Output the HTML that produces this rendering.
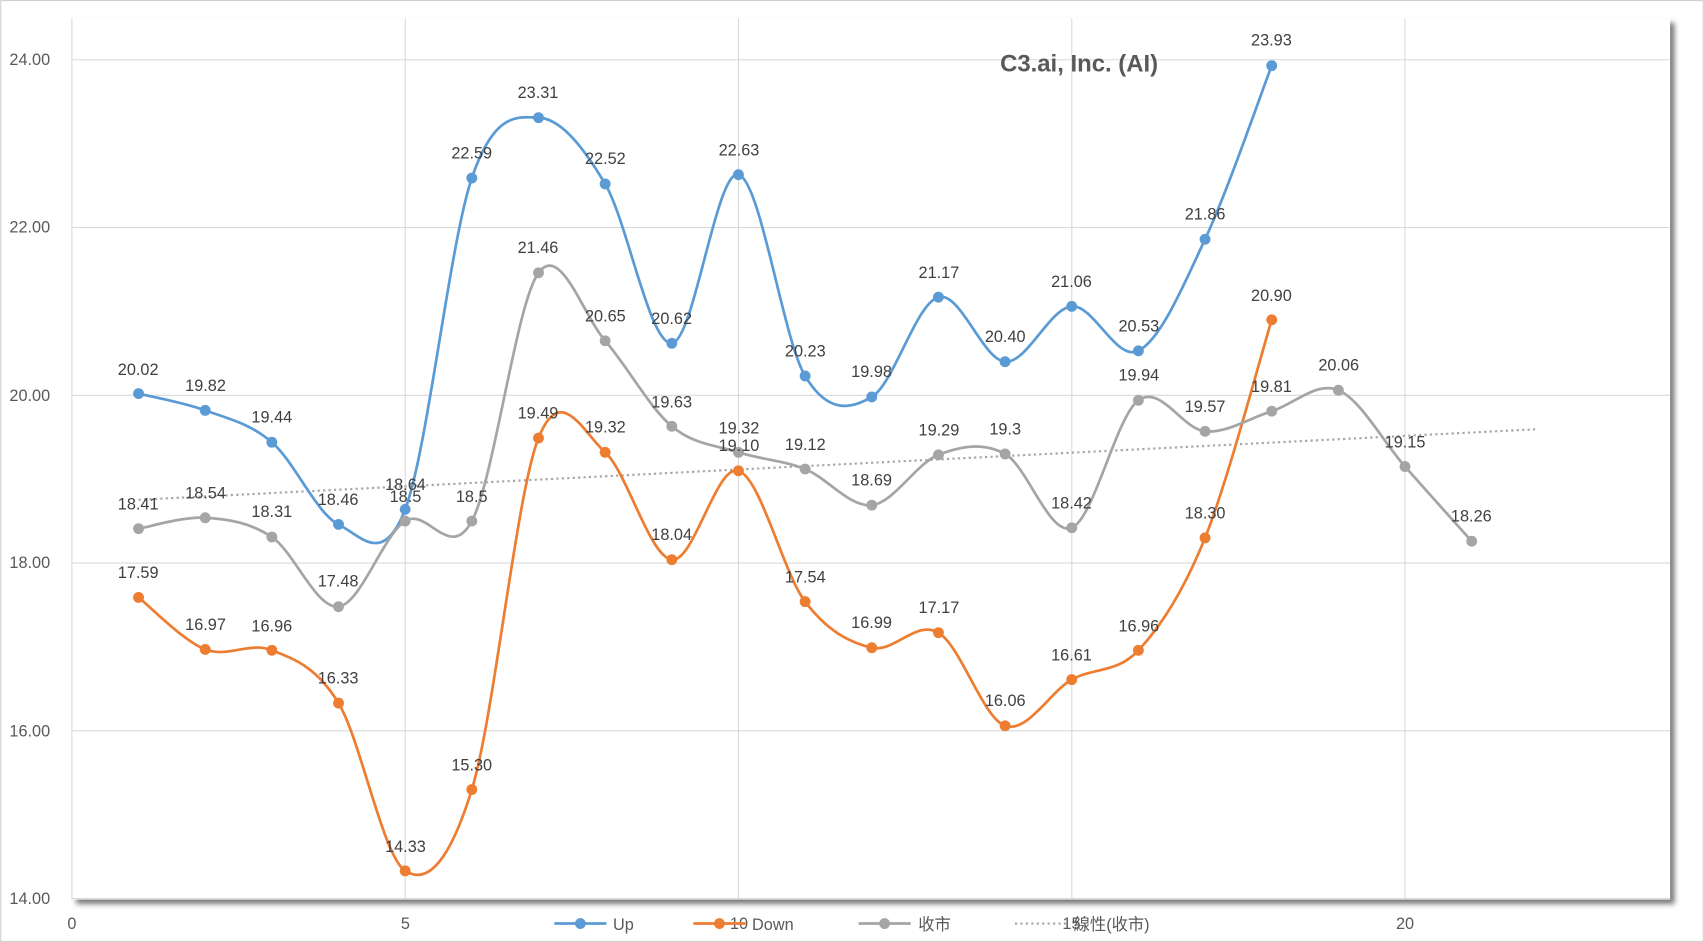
<!DOCTYPE html>
<html><head><meta charset="utf-8"><style>
html,body{margin:0;padding:0;background:#fff;}
svg{display:block;}
text{font-family:"Liberation Sans","Noto Sans CJK TC",sans-serif;}
</style></head><body>
<svg id="s" width="1704" height="942" viewBox="0 0 1568 867" xmlns="http://www.w3.org/2000/svg">
<defs><filter id="sh" x="-5%" y="-5%" width="110%" height="110%"><feGaussianBlur stdDeviation="2.5"/></filter></defs>
<rect x="0.5" y="0.5" width="1567" height="866" fill="#fff" stroke="#d0d0d0"/>
<rect x="70" y="21" width="1471" height="811" fill="#777" filter="url(#sh)"/>
<rect x="66" y="17" width="1471" height="811" fill="#fff"/>
<g stroke="#d9d9d9" stroke-width="1">
<line x1="66" y1="55" x2="1537" y2="55"/><line x1="66" y1="209.4" x2="1537" y2="209.4"/>
<line x1="66" y1="363.8" x2="1537" y2="363.8"/><line x1="66" y1="518.2" x2="1537" y2="518.2"/>
<line x1="66" y1="672.6" x2="1537" y2="672.6"/><line x1="66" y1="827" x2="1537" y2="827"/>
<line x1="66" y1="17" x2="66" y2="828"/><line x1="372.8" y1="17" x2="372.8" y2="828"/>
<line x1="679.5" y1="17" x2="679.5" y2="828"/><line x1="986.3" y1="17" x2="986.3" y2="828"/>
<line x1="1293" y1="17" x2="1293" y2="828"/>
</g>
<g font-size="15" fill="#595959" text-anchor="end">
<text x="46" y="60">24.00</text><text x="46" y="214">22.00</text><text x="46" y="369">20.00</text>
<text x="46" y="523">18.00</text><text x="46" y="678">16.00</text><text x="46" y="832">14.00</text>
</g>
<g font-size="15" fill="#595959" text-anchor="middle">
<text x="66" y="855">0</text><text x="373" y="855">5</text><text x="680" y="855">10</text>
<text x="986" y="855">15</text><text x="1293" y="855">20</text>
</g>
<text x="993" y="66" font-size="22" font-weight="bold" fill="#595959" text-anchor="middle">C3.ai, Inc. (AI)</text>
<line x1="127.4" y1="460" x2="1415" y2="395" stroke="#a5a5a5" stroke-width="2" stroke-dasharray="2,3"/>
<g id="series"></g>
<g font-size="15" fill="#404040" text-anchor="middle">
<text x="127" y="345">20.02</text><text x="189" y="360">19.82</text><text x="250" y="389">19.44</text><text x="311" y="465">18.46</text><text x="373" y="451">18.64</text><text x="434" y="146">22.59</text><text x="495" y="90">23.31</text><text x="557" y="151">22.52</text><text x="618" y="298">20.62</text><text x="680" y="143">22.63</text><text x="741" y="328">20.23</text><text x="802" y="347">19.98</text><text x="864" y="256">21.17</text><text x="925" y="315">20.40</text><text x="986" y="264">21.06</text><text x="1048" y="305">20.53</text><text x="1109" y="202">21.86</text><text x="1170" y="42">23.93</text>
<text x="127" y="532">17.59</text><text x="189" y="580">16.97</text><text x="250" y="581">16.96</text><text x="311" y="629">16.33</text><text x="373" y="784">14.33</text><text x="434" y="709">15.30</text><text x="495" y="385">19.49</text><text x="557" y="398">19.32</text><text x="618" y="497">18.04</text><text x="680" y="415">19.10</text><text x="741" y="536">17.54</text><text x="802" y="578">16.99</text><text x="864" y="564">17.17</text><text x="925" y="650">16.06</text><text x="986" y="608">16.61</text><text x="1048" y="581">16.96</text><text x="1109" y="477">18.30</text><text x="1170" y="277">20.90</text>
<text x="127" y="469">18.41</text><text x="189" y="459">18.54</text><text x="250" y="476">18.31</text><text x="311" y="540">17.48</text><text x="373" y="462">18.5</text><text x="434" y="462">18.5</text><text x="495" y="233">21.46</text><text x="557" y="296">20.65</text><text x="618" y="375">19.63</text><text x="680" y="399">19.32</text><text x="741" y="414">19.12</text><text x="802" y="447">18.69</text><text x="864" y="401">19.29</text><text x="925" y="400">19.3</text><text x="986" y="468">18.42</text><text x="1048" y="350">19.94</text><text x="1109" y="379">19.57</text><text x="1170" y="361">19.81</text><text x="1232" y="341">20.06</text><text x="1293" y="412">19.15</text><text x="1354" y="480">18.26</text>
</g>
<g font-size="15" fill="#595959">
<line x1="510" y1="850" x2="558" y2="850" stroke="#5b9bd5" stroke-width="2.5"/><circle cx="534" cy="850" r="5" fill="#5b9bd5"/><text x="564" y="856">Up</text>
<line x1="638" y1="850" x2="686" y2="850" stroke="#ed7d31" stroke-width="2.5"/><circle cx="662" cy="850" r="5" fill="#ed7d31"/><text x="692" y="856">Down</text>
<line x1="790" y1="850" x2="838" y2="850" stroke="#a5a5a5" stroke-width="2.5"/><circle cx="814" cy="850" r="5" fill="#a5a5a5"/><text x="845" y="856">收市</text>
<line x1="934" y1="850" x2="982" y2="850" stroke="#a5a5a5" stroke-width="2" stroke-dasharray="2,3"/><text x="988" y="856">線性(收市)</text>
</g>
</svg>
<script>
var X=function(i){return 66+61.35*i},Y=function(v){return 827-(v-14)*77.2};
var S=[["#5b9bd5",[20.02,19.82,19.44,18.46,18.64,22.59,23.31,22.52,20.62,22.63,20.23,19.98,21.17,20.40,21.06,20.53,21.86,23.93]],
["#ed7d31",[17.59,16.97,16.96,16.33,14.33,15.30,19.49,19.32,18.04,19.10,17.54,16.99,17.17,16.06,16.61,16.96,18.30,20.90]],
["#a5a5a5",[18.41,18.54,18.31,17.48,18.5,18.5,21.46,20.65,19.63,19.32,19.12,18.69,19.29,19.3,18.42,19.94,19.57,19.81,20.06,19.15,18.26]]];
var g=document.getElementById("series"),h="";
S.forEach(function(s){var p=s[1].map(function(v,i){return[X(i+1),Y(v)]});var d="M"+p[0];
for(var i=0;i<p.length-1;i++){var a=p[Math.max(0,i-1)],b=p[i],c=p[i+1],e=p[Math.min(p.length-1,i+2)],t=1/6;
d+=" C"+(b[0]+(c[0]-a[0])*t)+","+(b[1]+(c[1]-a[1])*t)+" "+(c[0]-(e[0]-b[0])*t)+","+(c[1]-(e[1]-b[1])*t)+" "+c[0]+","+c[1];}
h+='<path d="'+d+'" fill="none" stroke="'+s[0]+'" stroke-width="2.5"/>';
p.forEach(function(q){h+='<circle cx="'+q[0]+'" cy="'+q[1]+'" r="5" fill="'+s[0]+'"/>'});});
g.innerHTML=h;
</script>
</body></html>
